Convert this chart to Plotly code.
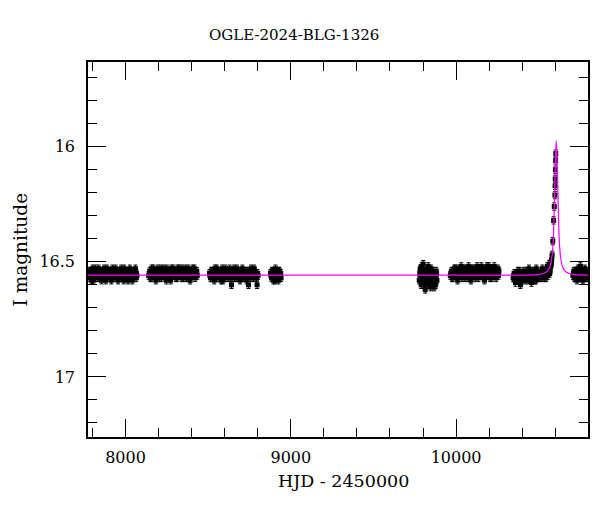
import plotly.graph_objects as go

# ---------------- data (HJD - 2450000, I mag) ----------------
s1_t = [7776, 7783, 7790, 7797, 7805, 7812, 7818, 7826, 7833, 7840, 7847, 7855, 7862, 7870, 7877, 7884, 7892, 7899, 7906, 7914, 7921, 7929, 7936, 7944, 7951, 7959, 7966, 7974, 7981, 7989, 7996, 8004, 8011, 8019, 8026, 8034, 8041, 8049, 8056, 8064, 8069,
        7780, 7787, 7794, 7801, 7808, 7815, 7822, 7829, 7837, 7844, 7851, 7858, 7866, 7873, 7881, 7888, 7895, 7903, 7910, 7918, 7925, 7932, 7940, 7948, 7955, 7962, 7970, 7977, 7985, 7992, 8000, 8007, 8015, 8022, 8030, 8037, 8045, 8052, 8060, 8066]
s1_m = [16.55, 16.57, 16.54, 16.56, 16.58, 16.55, 16.53, 16.56, 16.57, 16.54, 16.55, 16.58, 16.56, 16.53, 16.55, 16.57, 16.54, 16.56, 16.55, 16.58, 16.53, 16.56, 16.57, 16.54, 16.55, 16.57, 16.56, 16.53, 16.55, 16.58, 16.54, 16.56, 16.55, 16.57, 16.53, 16.56, 16.58, 16.54, 16.55, 16.57, 16.56,
        16.54, 16.56, 16.58, 16.53, 16.55, 16.57, 16.56, 16.54, 16.53, 16.57, 16.56, 16.54, 16.55, 16.57, 16.58, 16.53, 16.55, 16.54, 16.57, 16.55, 16.56, 16.54, 16.53, 16.56, 16.58, 16.54, 16.55, 16.57, 16.56, 16.53, 16.57, 16.54, 16.58, 16.55, 16.56, 16.54, 16.57, 16.56, 16.53, 16.55]

s2_t = [8140, 8147, 8154, 8162, 8169, 8177, 8184, 8191, 8199, 8206, 8214, 8221, 8228, 8236, 8243, 8251, 8258, 8265, 8273, 8280, 8288, 8295, 8302, 8310, 8317, 8325, 8332, 8339, 8347, 8354, 8362, 8369, 8376, 8384, 8391, 8399, 8406, 8413, 8421, 8428, 8434,
        8144, 8151, 8158, 8165, 8173, 8180, 8188, 8195, 8202, 8210, 8217, 8225, 8232, 8240, 8247, 8254, 8262, 8269, 8277, 8284, 8291, 8299, 8306, 8314, 8321, 8328, 8336, 8343, 8350, 8358, 8365, 8373, 8380, 8388, 8395, 8402, 8410, 8417, 8424, 8431]
s2_m = [16.56, 16.54, 16.57, 16.55, 16.53, 16.56, 16.58, 16.54, 16.55, 16.57, 16.53, 16.56, 16.54, 16.55, 16.57, 16.53, 16.56, 16.54, 16.58, 16.55, 16.53, 16.56, 16.54, 16.57, 16.55, 16.53, 16.56, 16.57, 16.54, 16.55, 16.53, 16.57, 16.56, 16.54, 16.58, 16.55, 16.53, 16.56, 16.57, 16.55, 16.56,
        16.55, 16.57, 16.53, 16.56, 16.54, 16.57, 16.55, 16.53, 16.56, 16.54, 16.57, 16.55, 16.53, 16.56, 16.58, 16.54, 16.55, 16.57, 16.53, 16.56, 16.54, 16.55, 16.57, 16.53, 16.56, 16.54, 16.55, 16.53, 16.57, 16.56, 16.54, 16.55, 16.53, 16.57, 16.54, 16.56, 16.55, 16.53, 16.56, 16.54]

s3_t = [8508, 8515, 8522, 8530, 8537, 8545, 8552, 8559, 8567, 8574, 8582, 8589, 8596, 8604, 8611, 8619, 8626, 8633, 8641, 8648, 8656, 8663, 8670, 8678, 8685, 8693, 8700, 8707, 8715, 8722, 8730, 8737, 8744, 8752, 8759, 8767, 8774, 8781, 8789, 8796, 8802,
        8511, 8519, 8526, 8534, 8541, 8548, 8556, 8563, 8571, 8578, 8585, 8593, 8600, 8608, 8615, 8622, 8630, 8637, 8645, 8652, 8659, 8667, 8674, 8682, 8689, 8696, 8704, 8711, 8719, 8726, 8733, 8741, 8748, 8756, 8763, 8770, 8778, 8785, 8793, 8799]
s3_m = [16.55, 16.57, 16.54, 16.56, 16.58, 16.55, 16.53, 16.56, 16.57, 16.55, 16.54, 16.58, 16.56, 16.53, 16.55, 16.57, 16.54, 16.56, 16.60, 16.55, 16.53, 16.56, 16.57, 16.54, 16.55, 16.58, 16.56, 16.53, 16.55, 16.57, 16.54, 16.56, 16.60, 16.55, 16.53, 16.56, 16.57, 16.54, 16.55, 16.60, 16.56,
        16.56, 16.54, 16.57, 16.55, 16.53, 16.57, 16.55, 16.54, 16.56, 16.58, 16.53, 16.55, 16.57, 16.54, 16.56, 16.55, 16.53, 16.57, 16.55, 16.54, 16.57, 16.55, 16.53, 16.56, 16.57, 16.54, 16.55, 16.57, 16.54, 16.56, 16.58, 16.54, 16.55, 16.57, 16.54, 16.55, 16.53, 16.56, 16.57, 16.55]

s4_t = [8877, 8883, 8889, 8895, 8901, 8907, 8913, 8919, 8925, 8931, 8937, 8941,
        8880, 8886, 8892, 8898, 8904, 8910, 8916, 8922, 8928, 8934, 8939]
s4_m = [16.55, 16.57, 16.54, 16.58, 16.56, 16.53, 16.57, 16.55, 16.58, 16.54, 16.56, 16.57,
        16.56, 16.54, 16.57, 16.55, 16.58, 16.54, 16.56, 16.57, 16.54, 16.56, 16.55]

s5_t = [9777, 9783, 9789, 9795, 9801, 9807, 9813, 9819, 9825, 9831, 9837, 9843, 9849, 9855, 9861, 9867, 9873, 9879, 9884,
        9780, 9786, 9792, 9798, 9804, 9810, 9816, 9822, 9828, 9834, 9840, 9846, 9852, 9858, 9864, 9870, 9876, 9882]
s5_m = [16.58, 16.53, 16.60, 16.55, 16.51, 16.58, 16.62, 16.54, 16.57, 16.52, 16.60, 16.56, 16.53, 16.59, 16.55, 16.61, 16.57, 16.54, 16.58,
        16.55, 16.58, 16.52, 16.57, 16.60, 16.54, 16.56, 16.59, 16.53, 16.58, 16.55, 16.61, 16.57, 16.54, 16.59, 16.56, 16.60, 16.55]

s6_t = [9965, 9972, 9979, 9987, 9994, 10002, 10009, 10016, 10024, 10031, 10039, 10046, 10053, 10061, 10068, 10076, 10083, 10090, 10098, 10105, 10113, 10120, 10127, 10135, 10142, 10150, 10157, 10164, 10172, 10179, 10187, 10194, 10201, 10209, 10216, 10224, 10231, 10238, 10246, 10253, 10259,
        9968, 9976, 9983, 9990, 9998, 10005, 10013, 10020, 10027, 10035, 10042, 10050, 10057, 10064, 10072, 10079, 10087, 10094, 10101, 10109, 10116, 10124, 10131, 10138, 10146, 10153, 10161, 10168, 10175, 10183, 10190, 10198, 10205, 10212, 10220, 10227, 10235, 10242, 10249, 10256]
s6_m = [16.56, 16.54, 16.57, 16.55, 16.53, 16.56, 16.58, 16.54, 16.55, 16.52, 16.56, 16.54, 16.57, 16.53, 16.55, 16.52, 16.56, 16.58, 16.54, 16.53, 16.56, 16.55, 16.52, 16.57, 16.54, 16.56, 16.53, 16.55, 16.58, 16.54, 16.52, 16.56, 16.55, 16.53, 16.57, 16.54, 16.52, 16.56, 16.55, 16.53, 16.54,
        16.55, 16.57, 16.54, 16.53, 16.56, 16.55, 16.53, 16.56, 16.54, 16.57, 16.55, 16.53, 16.54, 16.56, 16.57, 16.54, 16.55, 16.53, 16.56, 16.54, 16.57, 16.53, 16.55, 16.54, 16.56, 16.52, 16.55, 16.57, 16.53, 16.56, 16.54, 16.52, 16.57, 16.55, 16.53, 16.56, 16.54, 16.57, 16.54, 16.56]

s7_t = [10345, 10352, 10359, 10367, 10374, 10382, 10389, 10396, 10404, 10411, 10419, 10426, 10433, 10441, 10448, 10456, 10463, 10470, 10478, 10485, 10493, 10500, 10507, 10515, 10522, 10530, 10537, 10544, 10552, 10558, 10564, 10569, 10574, 10578,
        10348, 10356, 10363, 10370, 10378, 10385, 10393, 10400, 10407, 10415, 10422, 10430, 10437, 10444, 10452, 10459, 10467, 10474, 10481, 10489, 10496, 10504, 10511, 10518, 10526, 10533, 10540, 10548, 10555, 10561, 10566, 10572, 10576]
s7_m = [16.57, 16.55, 16.59, 16.56, 16.54, 16.58, 16.60, 16.55, 16.57, 16.54, 16.58, 16.56, 16.57, 16.53, 16.56, 16.59, 16.54, 16.56, 16.58, 16.53, 16.56, 16.55, 16.57, 16.55, 16.53, 16.56, 16.54, 16.57, 16.52, 16.55, 16.51, 16.54, 16.50, 16.49,
        16.56, 16.58, 16.55, 16.57, 16.56, 16.54, 16.56, 16.58, 16.55, 16.57, 16.56, 16.54, 16.58, 16.56, 16.55, 16.57, 16.56, 16.54, 16.58, 16.55, 16.57, 16.56, 16.54, 16.57, 16.55, 16.57, 16.56, 16.54, 16.56, 16.53, 16.55, 16.52, 16.51]

peak_t = [10581, 10585, 10590, 10594, 10598, 10599, 10600, 10601, 10602, 10603]
peak_m = [16.47, 16.41, 16.32, 16.26, 16.21, 16.17, 16.14, 16.10, 16.06, 16.03]

s8_t = [10707, 10713, 10719, 10725, 10731, 10737, 10743, 10749, 10755, 10761, 10767, 10773, 10779, 10785, 10791, 10797,
        10710, 10716, 10722, 10728, 10734, 10740, 10746, 10752, 10758, 10764, 10770, 10776, 10782, 10788, 10794]
s8_m = [16.56, 16.54, 16.57, 16.55, 16.58, 16.53, 16.56, 16.57, 16.54, 16.56, 16.58, 16.55, 16.53, 16.57, 16.55, 16.56,
        16.55, 16.57, 16.54, 16.56, 16.54, 16.57, 16.55, 16.52, 16.57, 16.55, 16.54, 16.57, 16.56, 16.54, 16.57]

mag_err = 0.016

# model light curve
model_t = [7770, 10400, 10496, 10531, 10556, 10570, 10580, 10587, 10592, 10596, 10600, 10603, 10606,
           10609, 10612, 10616, 10620, 10625, 10632, 10642, 10656, 10681, 10716, 10800]
model_m = [16.558, 16.558, 16.556, 16.55, 16.537, 16.517, 16.478, 16.42, 16.32, 16.20, 16.09, 16.02, 15.975,
           16.02, 16.09, 16.20, 16.32, 16.42, 16.478, 16.517, 16.537, 16.55, 16.556, 16.558]

title_text = "OGLE-2024-BLG-1326"
x_title = "HJD - 2450000"
y_title = "I magnitude"

# ---------------- figure ----------------
all_t = s1_t + s2_t + s3_t + s4_t + s5_t + s6_t + s7_t + peak_t + s8_t
all_m = s1_m + s2_m + s3_m + s4_m + s5_m + s6_m + s7_m + peak_m + s8_m

FONT = "DejaVu Serif"

fig = go.Figure()
fig.add_trace(go.Scatter(
    x=all_t, y=all_m, mode="markers",
    marker=dict(symbol="square", size=5, color="black", line=dict(width=0)),
    error_y=dict(type="constant", value=mag_err, color="black", thickness=1, width=2),
    showlegend=False, hoverinfo="x+y",
))
fig.add_trace(go.Scatter(
    x=model_t, y=model_m, mode="lines", line=dict(color="#ff00ff", width=1.2, shape="spline", smoothing=0.6),
    showlegend=False, hoverinfo="skip",
))

axis_common = dict(
    showline=True, linecolor="black", linewidth=1.5, mirror="allticks",
    ticks="inside", tickcolor="black", tickwidth=1.3,
    showgrid=False, zeroline=False,
    tickfont=dict(family=FONT, size=16, color="black"),
)

fig.update_xaxes(
    range=[7773, 10798], tickmode="linear", tick0=8000, dtick=1000, ticklen=18, tickformat="d",
    minor=dict(ticks="inside", dtick=200, ticklen=9, tickcolor="black", tickwidth=1.3, showgrid=False),
    ticklabelstandoff=5,
    **axis_common,
)
fig.update_yaxes(
    range=[17.261, 15.632], tickmode="linear", tick0=16, dtick=0.5, ticklen=18,
    minor=dict(ticks="inside", dtick=0.1, ticklen=9, tickcolor="black", tickwidth=1.3, showgrid=False),
    ticklabelstandoff=8,
    **axis_common,
)

# page body has an 8px margin: figure spans x 8..592, y 8..504 of the window
fig.update_layout(
    width=584, height=496,
    margin=dict(l=80, r=4, t=54, b=67, autoexpand=False),
    paper_bgcolor="white", plot_bgcolor="white",
    font=dict(family=FONT, color="black"),
    annotations=[
        dict(text=title_text, xref="paper", yref="paper", x=0.412, y=1.071,
             xanchor="center", yanchor="middle", showarrow=False,
             font=dict(family=FONT, size=15, color="black")),
        dict(text=x_title, xref="paper", yref="paper", x=0.51, y=-0.116,
             xanchor="center", yanchor="middle", showarrow=False,
             font=dict(family=FONT, size=17.5, color="black")),
        dict(text=y_title, xref="paper", yref="paper", x=-0.136, y=0.5,
             xanchor="center", yanchor="middle", showarrow=False, textangle=-90,
             font=dict(family=FONT, size=18.5, color="black")),
    ],
)

fig.write_html("out.html")
